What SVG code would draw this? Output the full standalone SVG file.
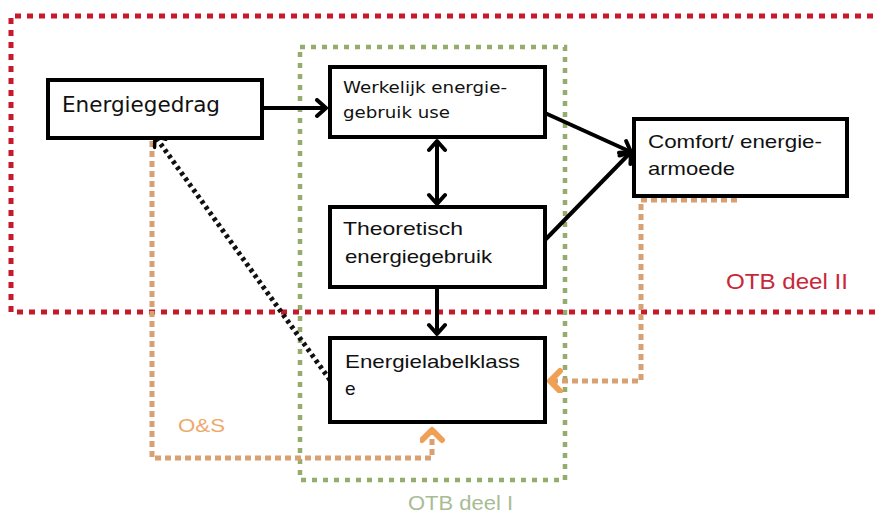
<svg xmlns="http://www.w3.org/2000/svg" width="879" height="517" viewBox="0 0 879 517">
<style>
.box{fill:#fff;stroke:#000;stroke-width:4}
.conn{fill:none;stroke:#000;stroke-width:4}
.dotblack{fill:none;stroke:#111;stroke-width:5;stroke-dasharray:3.5 3.5}
.red{fill:none;stroke:#c8182c;stroke-width:5;stroke-dasharray:6 6}
.green{fill:none;stroke:#94ad6c;stroke-width:4.5;stroke-dasharray:5 6}
.orange{fill:none;stroke:#d9a072;stroke-width:5;stroke-dasharray:6 4}
.t1{font-family:"DejaVu Sans",Verdana,sans-serif;fill:#111}
.t2{font-family:"Liberation Sans",Arial,sans-serif;fill:#111}
</style>
<defs>
<marker id="ah" markerUnits="userSpaceOnUse" markerWidth="20" markerHeight="24" refX="12" refY="10" orient="auto-start-reverse" viewBox="0 0 20 24">
<path d="M3,2 L12,10 L3,18" fill="none" stroke="#000" stroke-width="4" stroke-linecap="round" stroke-linejoin="round"/>
</marker>
<marker id="ahd" markerUnits="userSpaceOnUse" markerWidth="20" markerHeight="24" refX="12" refY="10" orient="auto" viewBox="0 0 20 24">
<path d="M3,3 L12,10 L3,17" fill="none" stroke="#000" stroke-width="3.5" stroke-linecap="round" stroke-linejoin="round"/>
</marker>
<marker id="aho" markerUnits="userSpaceOnUse" markerWidth="24" markerHeight="28" refX="14" refY="12" orient="auto" viewBox="0 0 24 28">
<path d="M4,2 L14,12 L4,22" fill="none" stroke="#f0a055" stroke-width="6" stroke-linecap="round" stroke-linejoin="round"/>
</marker>
</defs>
<rect width="879" height="517" fill="#fff"/>
<g id="regions">
<rect class="green" x="300" y="47" width="265" height="433"/>
<path class="red" d="M885,16 H11 V312 H885"/>
<text x="726" y="289" font-family="Liberation Sans, Arial, sans-serif" font-size="22" fill="#c8283a" textLength="122" lengthAdjust="spacingAndGlyphs">OTB deel II</text>
<text x="408" y="510" font-family="Liberation Sans, Arial, sans-serif" font-size="20" fill="#a8bc94" textLength="105" lengthAdjust="spacingAndGlyphs">OTB deel I</text>
<text x="178" y="432" font-family="Liberation Sans, Arial, sans-serif" font-size="19" fill="#eda86a" textLength="47" lengthAdjust="spacingAndGlyphs">O&amp;S</text>
</g>
<g id="connectors">
<path class="orange" d="M152,141 V458 H432 V430" marker-end="url(#aho)"/>
<path class="orange" d="M737,200 H641 V381 H550" marker-end="url(#aho)"/>
<line class="dotblack" x1="330" y1="380" x2="155" y2="136" marker-end="url(#ahd)"/>
<line class="conn" x1="262" y1="108" x2="326" y2="108" marker-end="url(#ah)"/>
<line class="conn" x1="437" y1="141" x2="437" y2="204" marker-start="url(#ah)" marker-end="url(#ah)"/>
<line class="conn" x1="545" y1="113" x2="631" y2="152" marker-end="url(#ah)"/>
<line class="conn" x1="545" y1="240" x2="631" y2="152" marker-end="url(#ah)"/>
<line class="conn" x1="437" y1="289" x2="437" y2="334" marker-end="url(#ah)"/>
</g>
<g id="energiegedrag">
<rect class="box" x="48" y="80" width="214" height="58"/>
<text class="t1" x="62" y="112" font-size="21" textLength="158" lengthAdjust="spacingAndGlyphs">Energiegedrag</text>
</g>
<g id="werkelijk">
<rect class="box" x="330" y="67" width="215" height="70"/>
<text class="t1" x="343" y="93" font-size="15.5" textLength="164" lengthAdjust="spacingAndGlyphs">Werkelijk energie-</text>
<text class="t1" x="343" y="118" font-size="15.5" textLength="107" lengthAdjust="spacingAndGlyphs">gebruik use</text>
</g>
<g id="theoretisch">
<rect class="box" x="330" y="207" width="215" height="80"/>
<text class="t2" x="343" y="235" font-size="19" textLength="120" lengthAdjust="spacingAndGlyphs">Theoretisch</text>
<text class="t2" x="345" y="263" font-size="19" textLength="147" lengthAdjust="spacingAndGlyphs">energiegebruik</text>
</g>
<g id="energielabel">
<rect class="box" x="330" y="338" width="215" height="84"/>
<text class="t2" x="345" y="368" font-size="19" textLength="175" lengthAdjust="spacingAndGlyphs">Energielabelklass</text>
<text class="t2" x="345" y="395" font-size="19">e</text>
</g>
<g id="comfort">
<rect class="box" x="634" y="119" width="213" height="77"/>
<text class="t2" x="648" y="148" font-size="19" textLength="174" lengthAdjust="spacingAndGlyphs">Comfort/ energie-</text>
<text class="t2" x="648" y="175" font-size="19" textLength="87" lengthAdjust="spacingAndGlyphs">armoede</text>
</g>
</svg>
